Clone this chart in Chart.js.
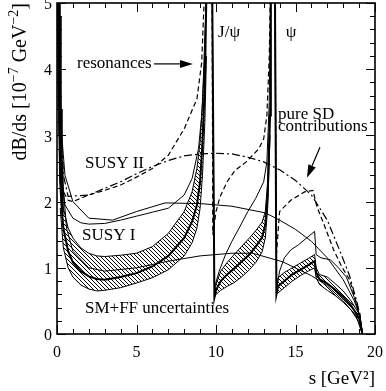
<!DOCTYPE html>
<html>
<head>
<meta charset="utf-8">
<script src="https://cdn.jsdelivr.net/npm/chart.js@4.4.0/dist/chart.umd.min.js"></script>
<style>
  html, body { margin: 0; padding: 0; background: #fff; }
  #wrap { width: 386px; height: 391px; }
</style>
</head>
<body>
<div id="wrap"><canvas id="c" width="386" height="391"></canvas></div>
<script>
// axis ticks
const xTicks = [0, 5, 10, 15, 20];
const yTicks = [0, 1, 2, 3, 4, 5];

// SM band (SM+FF uncertainties), three pieces between the resonances
const sBandL = [0.2, 0.4, 0.7, 1.0, 1.5, 2.0, 2.5, 3, 4, 5, 6, 7, 8, 8.5, 8.8, 9.0, 9.15, 9.3, 9.4];
const bandUpL = [2.6, 1.9, 1.6, 1.45, 1.3, 1.22, 1.18, 1.17, 1.19, 1.22, 1.32, 1.52, 1.85, 2.15, 2.5, 2.9, 3.5, 4.5, 5.2];
const bandLoL = [1.9, 1.3, 1.0, 0.86, 0.74, 0.68, 0.65, 0.66, 0.70, 0.77, 0.85, 0.97, 1.18, 1.38, 1.6, 1.9, 2.4, 3.2, 4.2];

const sBandM = [9.9, 10.0, 10.3, 10.7, 11.1, 11.6, 12.1, 12.5, 12.9, 13.1, 13.25, 13.4];
const bandUpM = [0.55, 0.75, 0.95, 1.08, 1.19, 1.32, 1.45, 1.56, 1.69, 1.85, 2.3, 3.5];
const bandLoM = [0.55, 0.6, 0.66, 0.72, 0.77, 0.86, 0.97, 1.08, 1.24, 1.45, 1.9, 3.0];

const sBandR = [13.8, 13.9, 14.3, 14.8, 15.3, 15.8, 16.2, 16.3, 16.5, 17.0, 17.5, 18.0, 18.5, 19.0, 19.2];
const bandUpR = [0.6, 0.85, 0.93, 1.0, 1.07, 1.14, 1.2, 1.0, 0.9, 0.86, 0.76, 0.65, 0.5, 0.3, 0.05];
const bandLoR = [0.6, 0.62, 0.7, 0.8, 0.88, 0.95, 1.0, 0.85, 0.75, 0.66, 0.58, 0.48, 0.36, 0.18, 0.0];

// SM with resonances (central line)
const smS = [0.04, 0.1, 0.14, 0.2, 0.3, 0.4, 0.7, 1.0, 1.5, 2.0, 2.5, 3, 4, 5, 6, 7, 8, 8.5, 8.8, 9.0, 9.15, 9.3, 9.4,
  9.75, 9.9, 10.0, 10.3, 10.7, 11.1, 11.6, 12.1, 12.5, 12.9, 13.1, 13.25, 13.4, 13.45,
  13.7, 13.8, 13.9, 14.3, 14.8, 15.3, 15.8, 16.2, 16.3, 16.5, 17.0, 17.5, 18.0, 18.5, 19.0, 19.2];
const smV = [6, 4.5, 3.2, 2.3, 1.9, 1.6, 1.25, 1.08, 0.95, 0.87, 0.83, 0.82, 0.86, 0.92, 1.02, 1.18, 1.45, 1.7, 1.95, 2.3, 2.9, 3.8, 5.2,
  5.6, 0.55, 0.66, 0.8, 0.9, 0.98, 1.09, 1.2, 1.32, 1.46, 1.65, 2.1, 3.3, 5.6,
  5.6, 0.6, 0.72, 0.8, 0.9, 0.97, 1.04, 1.1, 0.93, 0.83, 0.76, 0.67, 0.56, 0.43, 0.24, 0.02];

// SUSY I with resonances
const susy1S = [0.04, 0.1, 0.2, 0.3, 0.5, 1.0, 1.5, 2.0, 3, 4, 5, 6, 7, 8, 8.5, 8.9, 9.1, 9.3, 9.4,
  9.75, 9.9, 10.2, 10.6, 11.0, 11.5, 12.0, 12.5, 13.0, 13.2, 13.35, 13.45,
  13.7, 13.8, 14.0, 14.3, 14.7, 15.2, 15.7, 16.2, 16.3, 16.6, 17.2, 17.7, 18.2, 18.7, 19.06, 19.2];
const susy1V = [6, 4.8, 3.0, 2.3, 1.95, 1.75, 1.68, 1.66, 1.67, 1.72, 1.78, 1.84, 1.9, 2.1, 2.35, 2.8, 3.3, 4.2, 5.3,
  5.6, 0.7, 0.95, 1.2, 1.4, 1.62, 1.85, 2.05, 2.3, 2.6, 3.5, 5.6,
  5.6, 0.65, 0.95, 1.15, 1.27, 1.35, 1.45, 1.55, 1.2, 1.15, 1.12, 1.0, 0.86, 0.55, 0.26, 0.0];

// SUSY II with resonances
const susy2S = [0.04, 0.1, 0.2, 0.4, 0.7, 1.0, 2, 3, 4, 5, 6, 7, 8, 8.8, 9.1, 9.3,
  9.75, 9.8, 10.0, 10.25, 10.7, 11.2, 11.9, 12.3, 12.7, 13.0, 13.2, 13.35, 13.45,
  13.7, 13.8, 14.0, 14.7, 15.6, 16.1, 16.35, 16.8, 17.4, 17.9, 18.4, 18.8, 19.06, 19.2];
const susy2V = [6, 4.5, 2.5, 2.15, 2.02, 2.0, 2.1, 2.17, 2.25, 2.37, 2.5, 2.7, 3.1, 3.55, 4.1, 5.3,
  5.6, 1.5, 1.85, 2.07, 2.3, 2.47, 2.6, 2.7, 2.8, 2.95, 3.3, 4.2, 5.6,
  5.6, 1.2, 1.85, 2.02, 2.15, 2.17, 1.92, 1.65, 1.27, 1.02, 0.82, 0.5, 0.3, 0.0];

// pure short-distance contributions
const smSdS = [0.1, 0.2, 0.3, 0.6, 1, 2, 3, 5, 7, 9, 11, 12.3, 14.2, 16, 17, 18, 18.8, 19.2];
const smSdV = [5.5, 3.4, 2.5, 1.6, 1.25, 1.0, 0.95, 1.0, 1.1, 1.18, 1.22, 1.22, 1.09, 0.88, 0.73, 0.5, 0.28, 0.0];

const susy1SdS = [0.1, 0.2, 0.3, 0.5, 1, 2, 3.5, 5, 6.8, 9, 11, 13.1, 14, 15, 16, 17, 18, 18.7, 19.06, 19.2];
const susy1SdV = [6, 3.9, 3.0, 2.4, 2.0, 1.75, 1.72, 1.85, 1.98, 1.97, 1.93, 1.83, 1.72, 1.58, 1.4, 1.15, 0.82, 0.5, 0.26, 0.0];

const susy2SdS = [0.1, 0.2, 0.4, 0.7, 2, 3, 4, 5, 6, 7, 8, 9, 10, 11, 12, 13, 14, 15, 16, 17, 17.8, 18.4, 18.9, 19.2];
const susy2SdV = [6, 3.3, 2.4, 2.08, 2.1, 2.2, 2.3, 2.42, 2.53, 2.62, 2.69, 2.72, 2.73, 2.72, 2.67, 2.6, 2.48, 2.32, 2.1, 1.72, 1.25, 0.88, 0.45, 0.0];

// light resonances near s = 0
const lowS = [0.05, 0.1, 0.12, 0.15, 0.17, 0.2, 0.22, 0.25, 0.27, 0.3, 0.32, 0.35];
const lowV = [5.5, 3.4, 5.5, 3.0, 5.5, 2.6, 4.8, 2.3, 3.4, 2.0, 2.6, 1.8];

const pts = (xs, ys) => xs.map((s, i) => ({ x: s, y: ys[i] }));

const SERIF = '"Liberation Serif", "DejaVu Serif", serif';

const canvas = document.getElementById('c');
const ctx = canvas.getContext('2d');

// diagonal hatching for the uncertainty band
function makeHatch() {
  const c = document.createElement('canvas');
  c.width = 4; c.height = 4;
  const g = c.getContext('2d');
  g.strokeStyle = '#000';
  g.lineWidth = 1;
  g.beginPath();
  g.moveTo(0, 0); g.lineTo(4, 4);
  g.moveTo(-1, 3); g.lineTo(1, 5);
  g.moveTo(3, -1); g.lineTo(5, 1);
  g.stroke();
  return ctx.createPattern(c, 'repeat');
}
const hatch = makeHatch();

function line(xs, ys, width, dash) {
  return {
    data: pts(xs, ys),
    borderColor: '#000',
    borderWidth: width,
    borderDash: dash || [],
    pointRadius: 0,
    fill: false,
    tension: 0
  };
}
function bandTop(xs, ys) {
  const d = line(xs, ys, 1);
  d.fill = '+1';
  d.backgroundColor = hatch;
  return d;
}

// frame with inward ticks on all four sides
const frame = {
  id: 'frame',
  afterDatasetsDraw(chart) {
    const { ctx, chartArea: a, scales: { x, y } } = chart;
    ctx.save();
    ctx.strokeStyle = '#000';
    ctx.lineWidth = 1.6;
    ctx.strokeRect(a.left, a.top, a.right - a.left, a.bottom - a.top);
    ctx.lineWidth = 1;
    ctx.beginPath();
    for (let s = 0; s <= 20; s++) {
      const px = Math.round(x.getPixelForValue(s)) + 0.5;
      const len = s % 5 === 0 ? 9 : 5;
      ctx.moveTo(px, a.bottom); ctx.lineTo(px, a.bottom - len);
      ctx.moveTo(px, a.top); ctx.lineTo(px, a.top + len);
    }
    for (let i = 0; i <= 25; i++) {
      const py = Math.round(y.getPixelForValue(i / 5)) + 0.5;
      const len = i % 5 === 0 ? 9 : 5;
      ctx.moveTo(a.left, py); ctx.lineTo(a.left + len, py);
      ctx.moveTo(a.right, py); ctx.lineTo(a.right - len, py);
    }
    ctx.stroke();
    ctx.restore();
  }
};

// y axis title with raised exponents, ending at the top of the axis
const yTitleParts = [['dB/ds [10', false], ['\u22127', true], [' GeV', false], ['\u22122', true], [']', false]];
const yTitle = {
  id: 'yTitle',
  afterDraw(chart) {
    const { ctx, chartArea: a } = chart;
    const big = '20px ' + SERIF, small = '14px ' + SERIF;
    ctx.save();
    ctx.fillStyle = '#000';
    ctx.textBaseline = 'alphabetic';
    ctx.textAlign = 'left';
    let total = 0;
    yTitleParts.forEach(([t, sup]) => { ctx.font = sup ? small : big; total += ctx.measureText(t).width; });
    ctx.translate(26, a.top);
    ctx.rotate(-Math.PI / 2);
    let pos = -total;
    yTitleParts.forEach(([t, sup]) => {
      ctx.font = sup ? small : big;
      ctx.fillText(t, pos, sup ? -8 : 0);
      pos += ctx.measureText(t).width;
    });
    ctx.restore();
  }
};

// text labels and arrows
const notes = [
  { text: 'resonances', s: 1.26, v: 4.08 },
  { text: 'J/\u03C8', s: 10.82, v: 4.56, align: 'center' },
  { text: '\u03C8', s: 14.72, v: 4.56, align: 'center' },
  { text: 'pure SD', s: 13.9, v: 3.32 },
  { text: 'contributions', s: 13.9, v: 3.13 },
  { text: 'SUSY II', s: 1.76, v: 2.58 },
  { text: 'SUSY I', s: 1.57, v: 1.48 },
  { text: 'SM+FF uncertainties', s: 1.76, v: 0.39 }
];
const arrows = [
  { s0: 6.1, v0: 4.08, s1: 8.55, v1: 4.08 },
  { s0: 16.54, v0: 2.82, s1: 15.72, v1: 2.36 }
];

const annotate = {
  id: 'annotate',
  afterDraw(chart) {
    const { ctx, scales: { x, y } } = chart;
    ctx.save();
    ctx.fillStyle = '#000';
    ctx.strokeStyle = '#000';
    ctx.font = '17px ' + SERIF;
    ctx.textBaseline = 'middle';
    notes.forEach(n => {
      ctx.textAlign = n.align || 'left';
      ctx.fillText(n.text, x.getPixelForValue(n.s), y.getPixelForValue(n.v));
    });
    arrows.forEach(a => {
      const x0 = x.getPixelForValue(a.s0), y0 = y.getPixelForValue(a.v0);
      const x1 = x.getPixelForValue(a.s1), y1 = y.getPixelForValue(a.v1);
      const ang = Math.atan2(y1 - y0, x1 - x0);
      const hl = 13, hw = 4;
      ctx.lineWidth = 1.2;
      ctx.beginPath();
      ctx.moveTo(x0, y0);
      ctx.lineTo(x1 - hl * Math.cos(ang), y1 - hl * Math.sin(ang));
      ctx.stroke();
      ctx.beginPath();
      ctx.moveTo(x1, y1);
      ctx.lineTo(x1 - hl * Math.cos(ang) - hw * Math.sin(ang), y1 - hl * Math.sin(ang) + hw * Math.cos(ang));
      ctx.lineTo(x1 - hl * Math.cos(ang) + hw * Math.sin(ang), y1 - hl * Math.sin(ang) - hw * Math.cos(ang));
      ctx.closePath();
      ctx.fill();
    });
    ctx.restore();
  }
};

new Chart(ctx, {
  type: 'line',
  data: {
    datasets: [
      line(smS, smV, 2),
      line(susy1S, susy1V, 1),
      line(susy2S, susy2V, 1.2, [5, 3]),
      line(smSdS, smSdV, 1),
      line(susy1SdS, susy1SdV, 1),
      line(susy2SdS, susy2SdV, 1.2, [8, 3, 2, 3]),
      line(lowS, lowV, 2),
      bandTop(sBandL, bandUpL), line(sBandL, bandLoL, 1),
      bandTop(sBandM, bandUpM), line(sBandM, bandLoM, 1),
      bandTop(sBandR, bandUpR), line(sBandR, bandLoR, 1)
    ]
  },
  options: {
    responsive: false,
    animation: false,
    devicePixelRatio: 1,
    layout: { padding: { top: 3, right: 11, left: 0, bottom: 0 } },
    plugins: { legend: { display: false }, tooltip: { enabled: false } },
    scales: {
      x: {
        type: 'linear',
        min: 0, max: 20,
        afterFit: s => { s.height = 57; s.paddingLeft = 0; s.paddingRight = 0; },
        afterBuildTicks: s => { s.ticks = xTicks.map(v => ({ value: v })); },
        grid: { display: false, drawTicks: false },
        border: { display: false },
        ticks: { color: '#000', font: { family: SERIF, size: 16 }, padding: 9, maxRotation: 0 },
        title: {
          display: true, text: 's [GeV\u00B2]', align: 'end', color: '#000',
          font: { family: SERIF, size: 19 }, padding: { top: 0, bottom: 1 }
        }
      },
      y: {
        type: 'linear',
        min: 0, max: 5,
        afterFit: s => { s.width = 57; s.paddingTop = 0; s.paddingBottom = 0; },
        afterBuildTicks: s => { s.ticks = yTicks.map(v => ({ value: v })); },
        grid: { display: false, drawTicks: false },
        border: { display: false },
        ticks: { color: '#000', font: { family: SERIF, size: 16 }, padding: 5, labelOffset: 2 },
        title: { display: false }
      }
    }
  },
  plugins: [frame, yTitle, annotate]
});
</script>
</body>
</html>
